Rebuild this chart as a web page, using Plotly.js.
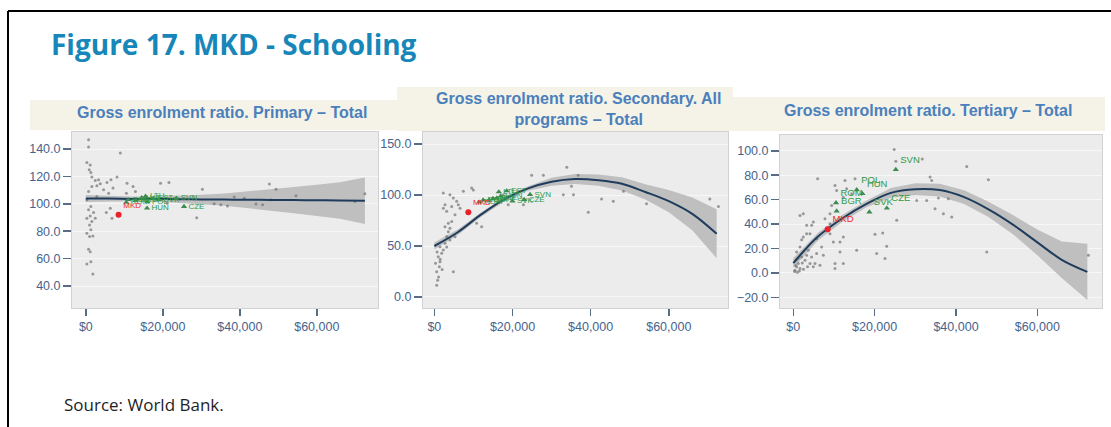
<!DOCTYPE html>
<html>
<head>
<meta charset="utf-8">
<script src="https://cdn.plot.ly/plotly-3.0.1.min.js"></script>
<style>html,body{margin:0;padding:0;background:#fff;}#chart{width:1111px;height:427px;}</style>
</head>
<body>
<div id="chart"></div>
<script>
// ---------- DATA ----------
const xTickVals = [0, 20000, 40000, 60000];
const xTickText = ['$0', '$20,000', '$40,000', '$60,000'];
const p1YTicks = [40, 60, 80, 100, 120, 140];
const p2YTicks = [0, 50, 100, 150];
const p3YTicks = [-20, 0, 20, 40, 60, 80, 100];

const panelTitles = [
  'Gross enrolment ratio. Primary – Total',
  'Gross enrolment ratio. Secondary. All<br>programs – Total',
  'Gross enrolment ratio. Tertiary – Total'
];

// Panel 1: Primary
const p1GrayX = [700,700,260,1130,870,1300,1570,2440,3300,3740,2870,1570,4610,5480,6530,8090,7050,8960,10700,12270,12880,10530,5920,2870,700,260,1300,700,2000,1130,260,2440,1570,960,1300,260,960,1830,700,1130,1300,260,1830,6790,5310,6350,19400,21580,30280,28800,35060,36800,33320,38540,41150,44200,45900,47680,49400,54600,48100,69900,72500,21140];
const p1GrayY = [146.8,141.5,130.2,128.3,124.9,122.9,119.5,117.1,117.6,114.6,113.2,112.7,110.2,115.6,117.6,119.5,111.5,137.1,115.1,112.7,109.0,107.8,107.8,105.4,109.0,102.9,98.0,95.6,93.7,91.2,89.5,89.5,87.1,84.6,81.0,78.5,76.1,76.6,66.8,65.1,57.8,56.1,48.8,89.5,93.7,96.8,115.1,115.6,110.7,89.8,99.3,98.5,100.0,104.9,104.1,99.8,99.3,114.4,110.7,105.9,102.9,101.7,107.3,100.5];
const p1Codes = ['ROM','BGR','HRV','LVA','LTU','POL','HUN','EST','SVK','CZE','SVN'];
const p1GreenX = [10500,11000,13000,14500,15500,16000,15900,17500,19000,25500,23500];
const p1GreenY = [101,103,102.5,104.5,105.5,101.5,96.8,104,103,98,104];
const p1MkdX = [8500], p1MkdY = [92];
const p1FitX = [0,6000,12000,18000,24000,30000,36000,42000,48000,54000,60000,66000,72500];
const p1Fit  = [103.9,103.8,103.6,103.5,103.4,103.2,103.1,103.0,102.8,102.7,102.6,102.4,102.2];
const p1Up   = [106.4,105.8,105.4,105.4,105.9,106.7,107.6,109.0,110.6,112.2,113.9,115.7,119.2];
const p1Lo   = [101.4,101.8,101.8,101.6,100.9,99.7,98.6,97.0,95.0,93.2,91.3,89.1,85.2];

// Panel 2: Secondary
const p2GrayX = [600,850,1100,600,1280,1450,1000,1880,2300,1450,2730,3160,3580,2730,4000,2300,2730,3160,4440,2300,4000,4860,5710,6140,6570,5290,4440,3580,4860,7420,9550,9980,10830,12110,5290,4000,3160,300,700,1500,2000,18900,17650,24900,27900,33900,36800,35100,33000,35600,39400,42800,45800,48400,54300,70500,72700,22800];
const p2GrayY = [11.5,16.4,19.7,24.7,29.6,34.5,39.5,42.8,46,49.3,52.6,59.2,64,69,67.4,87,90.5,84,88.8,102,100.3,97,93.8,90.5,87,80.6,74,72.4,24.7,103.6,107,105,72.4,69,59,56,49,33,44,37,27,90.5,100.3,119.4,119.4,127.3,119.4,108.5,100.3,100.3,83.2,96,93.8,103.6,91.4,96,88.8,90.5];
const p2Codes = ['ROM','BGR','HRV','LVA','LTU','POL','HUN','EST','SVK','CZE','SVN'];
const p2GreenX = [11500,12500,15000,14000,16500,16000,17000,18500,20000,23000,24500];
const p2GreenY = [93,95,96.5,95,103,97,99,104,94,95.5,100.5];
const p2MkdX = [8700], p2MkdY = [83.2];
const p2FitX = [0,6000,12000,18000,24000,30000,36000,42000,48000,54000,60000,66000,72250];
const p2Fit  = [50,63.5,81,96,106.5,113,115.7,114.5,111,103,94,81.5,62];
const p2Up   = [53.5,66.3,83.2,98,108.7,117,120.7,120,117.5,110.5,105,97.5,86];
const p2Lo   = [46.5,60.7,78.8,94,104.3,109,110.7,109,104.5,95.5,83,65.5,38];

// Panel 3: Tertiary
const p3GrayX = [410,820,1230,1640,656,2050,2870,3280,4100,4920,5330,4510,3690,5740,820,1640,2050,2460,3280,1640,2460,3280,4510,4100,4920,5740,5990,6970,7380,6560,10250,12300,10250,9430,9020,10250,10660,12710,15170,13120,14350,12300,9020,9840,11480,12300,11480,15580,9020,7790,20090,21980,20500,22550,22960,25420,32800,30340,34850,36900,38950,33620,34030,35670,38130,42640,47560,47970,72570,24800,25200,31700,300,1000,1500,600,2500,3500,2200,1200];
const p3GrayY = [2.2,4.9,7.6,3.5,10.3,13,10.3,14.4,7.6,4.9,7.6,13,18.5,15.8,17.1,21.2,27.2,29.4,32.1,47,48.4,38.9,38.9,32.1,41.6,28,77,21.2,14.4,6.3,7.6,7.6,3.5,55.2,48.4,71.6,67.5,75.6,77,68.8,64.8,62,32.1,25.3,25.3,29.4,17.1,18.5,40.3,44.4,31.6,32.7,15.8,11.7,21.8,43,59.3,59.3,52.5,48.4,45.7,78.4,75.6,61.2,60.7,87.1,17.1,76.2,14.4,101,91.4,93.3,1,0.5,1.5,6,3,5,8,12];
const p3Codes = ['SVN','POL','HUN','ROM','BGR','SVK','CZE'];
const p3GreenX = [25200,15600,17000,10500,10660,18700,23000];
const p3GreenY = [84.6,68,64.8,57.4,50.6,49.8,53];
const p3MkdX = [8450], p3MkdY = [35.6];
const p3FitX = [0,6000,12000,18000,24000,30000,36000,42000,48000,54000,60000,66000,72300];
const p3Fit  = [8,29.5,44.5,56.5,65.5,68.5,67.8,62,52,39.5,25,10.7,0.8];
const p3Up   = [12,32.7,47.3,59.3,69.5,73.3,73,67.6,58.3,47.3,35.5,25.7,23.8];
const p3Lo   = [4,26.3,41.7,53.7,61.5,63.7,62.6,56.4,45.7,31.7,14.5,-4.3,-22.2];

// ---------- LAYOUT HELPERS ----------
const W = 1111, H = 427;
const fx = v => v / W;
const fy = v => 1 - v / H;

const tickFont = {family: 'Liberation Sans, Arial, sans-serif', size: 12.5, color: '#46638c'};

function xAxis(left, right, range, anchor) {
  return {
    domain: [fx(left), fx(right)], range: range, anchor: anchor,
    tickvals: xTickVals, ticktext: xTickText,
    ticks: 'outside', ticklen: 7, tickwidth: 1.5, tickcolor: '#5b6b85',
    showgrid: false, zeroline: false, showline: true, mirror: true,
    linecolor: '#d2d2d2', linewidth: 1, tickfont: tickFont, fixedrange: true
  };
}
function yAxis(top, bottom, range, ticks, anchor) {
  return {
    domain: [fy(bottom), fy(top)], range: range, anchor: anchor,
    tickvals: ticks, tickformat: '.1f',
    ticks: 'outside', ticklen: 8, tickwidth: 1.5, tickcolor: '#5b6b85',
    showgrid: true, gridcolor: '#f7f7f7', gridwidth: 1,
    zeroline: false, showline: true, mirror: true,
    linecolor: '#d2d2d2', linewidth: 1, tickfont: tickFont, fixedrange: true
  };
}

function panelTraces(xa, ya, fitX, fit, up, lo, gx, gy, codes, grX, grY, mX, mY, labelSize, labelPos) {
  return [
    {x: fitX, y: lo, xaxis: xa, yaxis: ya, mode: 'lines', line: {width: 0, color: 'rgba(0,0,0,0)'}, hoverinfo: 'skip', showlegend: false},
    {x: fitX, y: up, xaxis: xa, yaxis: ya, mode: 'lines', line: {width: 0, color: 'rgba(0,0,0,0)'}, fill: 'tonexty', fillcolor: '#bfbfbf', hoverinfo: 'skip', showlegend: false},
    {x: gx, y: gy, xaxis: xa, yaxis: ya, mode: 'markers', marker: {size: 3, color: 'rgba(115,115,115,0.7)'}, showlegend: false},
    {x: fitX, y: fit, xaxis: xa, yaxis: ya, mode: 'lines', line: {width: 2, color: '#1f3c5c', shape: 'spline'}, showlegend: false},
    {x: grX, y: grY, xaxis: xa, yaxis: ya, mode: 'markers+text', text: codes, textposition: labelPos,
      textfont: {family: 'Liberation Sans, Arial, sans-serif', size: labelSize, color: '#2f9a46'},
      marker: {symbol: 'triangle-up', size: 5.5, color: '#3f8a52'}, showlegend: false},
    {x: mX, y: mY, xaxis: xa, yaxis: ya, mode: 'markers+text', text: ['MKD'], textposition: 'top right',
      textfont: {family: 'Liberation Sans, Arial, sans-serif', size: labelSize, color: '#ee2a2a'},
      marker: {symbol: 'circle', size: 6, color: '#e8202a'}, showlegend: false}
  ];
}

const data = [].concat(
  panelTraces('x', 'y', p1FitX, p1Fit, p1Up, p1Lo, p1GrayX, p1GrayY, p1Codes, p1GreenX, p1GreenY, p1MkdX, p1MkdY, 8, 'middle right'),
  panelTraces('x2', 'y2', p2FitX, p2Fit, p2Up, p2Lo, p2GrayX, p2GrayY, p2Codes, p2GreenX, p2GreenY, p2MkdX, p2MkdY, 8, 'middle right'),
  panelTraces('x3', 'y3', p3FitX, p3Fit, p3Up, p3Lo, p3GrayX, p3GrayY, p3Codes, p3GreenX, p3GreenY, p3MkdX, p3MkdY, 9.5, 'top right')
);

const bandColor = '#f5f2e8';
function band(x0, x1, y0, y1) {
  return {type: 'rect', xref: 'paper', yref: 'paper', x0: fx(x0), x1: fx(x1), y0: fy(y1), y1: fy(y0),
    fillcolor: bandColor, line: {width: 0}, layer: 'below'};
}
const titleFont = {family: 'Liberation Sans, Arial, sans-serif', size: 16, color: '#4a80bb'};

const layout = {
  width: W, height: H,
  margin: {l: 0, r: 0, t: 0, b: 0},
  paper_bgcolor: '#ffffff', plot_bgcolor: '#ececec',
  showlegend: false,
  xaxis: xAxis(72, 378, [-3600, 75900], 'y'),
  yaxis: yAxis(132, 308, [24, 152.4], p1YTicks, 'x'),
  xaxis2: xAxis(423, 728, [-2900, 75150], 'y2'),
  yaxis2: yAxis(132, 308, [-10.8, 161.8], p2YTicks, 'x2'),
  xaxis3: xAxis(780, 1102, [-3270, 75900], 'y3'),
  yaxis3: yAxis(135, 308, [-28.8, 112.9], p3YTicks, 'x3'),
  shapes: [
    {type: 'line', xref: 'paper', yref: 'paper', x0: fx(8), x1: fx(1111), y0: fy(11), y1: fy(11), line: {color: '#000', width: 2}},
    {type: 'line', xref: 'paper', yref: 'paper', x0: fx(8), x1: fx(8), y0: fy(11), y1: fy(427), line: {color: '#000', width: 2}},
    band(30, 397, 100, 130),
    band(397, 733, 87, 131),
    band(733, 1105, 97, 131)
  ],
  annotations: [
    {text: '<b>Figure 17. MKD - Schooling</b>', xref: 'paper', yref: 'paper', x: fx(49), y: fy(44), xanchor: 'left', yanchor: 'middle',
      showarrow: false, font: {family: 'Open Sans, Noto Sans, sans-serif', size: 28, color: '#1786b8'}},
    {text: '<b>' + panelTitles[0] + '</b>', xref: 'paper', yref: 'paper', x: fx(222), y: fy(112), xanchor: 'center', yanchor: 'middle',
      showarrow: false, font: titleFont},
    {text: '<b>' + panelTitles[1] + '</b>', xref: 'paper', yref: 'paper', x: fx(578), y: fy(109.5), xanchor: 'center', yanchor: 'middle',
      showarrow: false, font: titleFont},
    {text: '<b>' + panelTitles[2] + '</b>', xref: 'paper', yref: 'paper', x: fx(928), y: fy(110.5), xanchor: 'center', yanchor: 'middle',
      showarrow: false, font: titleFont},
    {text: 'Source: World Bank.', xref: 'paper', yref: 'paper', x: fx(62), y: fy(404), xanchor: 'left', yanchor: 'middle',
      showarrow: false, font: {family: 'Open Sans, Noto Sans, sans-serif', size: 17, color: '#1e1e1e'}}
  ]
};

Plotly.newPlot('chart', data, layout, {displayModeBar: false, staticPlot: true});
</script>
</body>
</html>
